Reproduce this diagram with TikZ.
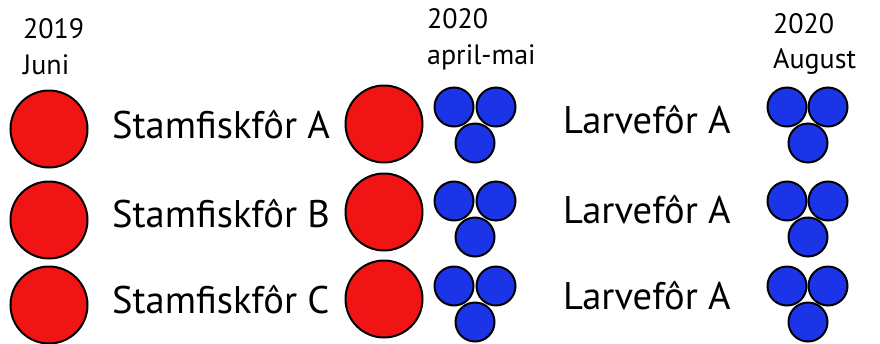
\documentclass[tikz,border=0pt]{standalone}
\usepackage{fontspec}
\setmainfont{PT Sans}
\definecolor{fishred}{RGB}{240,20,20}
\definecolor{fishblue}{RGB}{28,52,232}
\begin{document}
\begin{tikzpicture}[x=1pt,y=-1pt,
  bigegg/.style={circle,draw=black,line width=2pt,fill=fishred,inner sep=0pt,minimum size=77pt},
  larva/.style={circle,draw=black,line width=2pt,fill=fishblue,inner sep=0pt,minimum size=39pt},
  label/.style={anchor=base west,inner sep=0pt,font=\fontsize{38.5}{40}\selectfont},
  head/.style={anchor=base west,inner sep=0pt,font=\fontsize{28}{30}\selectfont}]
\useasboundingbox (0,0) rectangle (880,343);
% headers
\node[head] (h1a) at (23,38) {2019};
\node[head] (h1b) at (23,74) {Juni};
\node[head] (h2a) at (427,28) {2020};
\node[head] (h2b) at (427,64) {april-mai};
\node[head] (h3a) at (773,33) {2020};
\node[head] (h3b) at (773,68) {August};
% left red eggs
\node[bigegg] (r1) at (49,129) {};
\node[bigegg] (r2) at (49,220) {};
\node[bigegg] (r3) at (49,305) {};
% stamfisk labels
\node[label] (s1) at (112,138) {Stamfiskfôr A};
\node[label] (s2) at (112,227) {Stamfiskfôr B};
\node[label] (s3) at (112,313) {Stamfiskfôr C};
% middle red eggs
\node[bigegg] (m1) at (384,124) {};
\node[bigegg] (m2) at (384,212) {};
\node[bigegg] (m3) at (384,299) {};
% middle larvae
\foreach \i/\t in {1/107,2/201,3/286}{
  \node[larva] (ml\i a) at (454,\t) {};
  \node[larva] (ml\i b) at (496,\t) {};
  \node[larva] (ml\i c) at (475,\t+36) {};
}
% larvefor labels
\node[label] (l1) at (563,133) {Larvefôr A};
\node[label] (l2) at (563,223) {Larvefôr A};
\node[label] (l3) at (563,309) {Larvefôr A};
% right larvae
\foreach \i/\t in {1/107,2/201,3/286}{
  \node[larva] (rl\i a) at (787,\t) {};
  \node[larva] (rl\i b) at (828,\t) {};
  \node[larva] (rl\i c) at (808,\t+36) {};
}
\end{tikzpicture}
\end{document}
